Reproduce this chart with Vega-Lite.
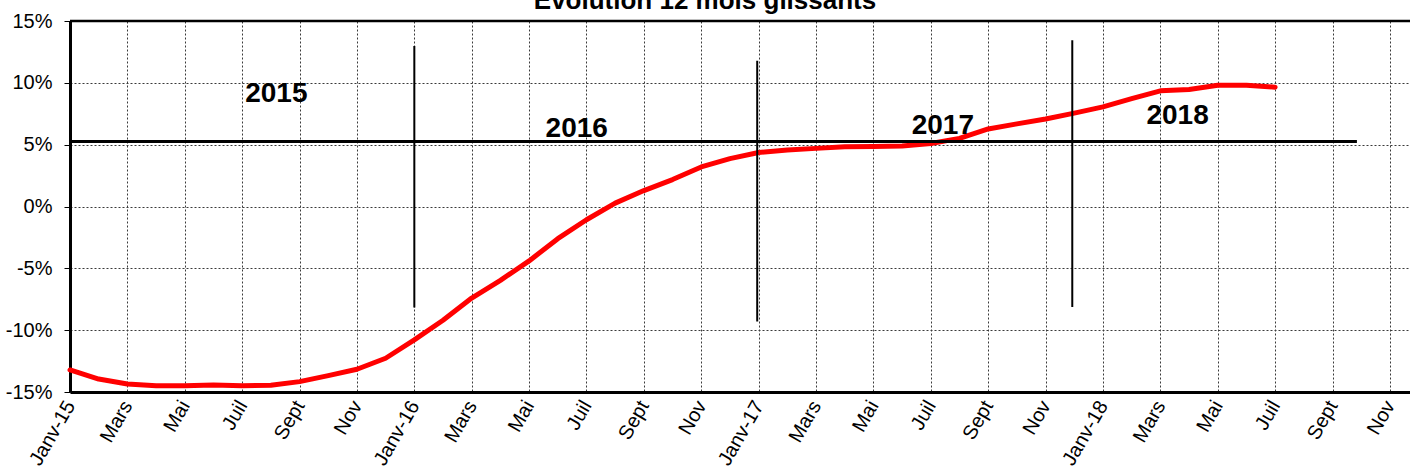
{
  "$schema": "https://vega.github.io/schema/vega-lite/v6.json",
  "width": 1340,
  "height": 371,
  "autosize": {"type": "none"},
  "padding": {"left": 70, "top": 21, "right": 0, "bottom": 82},
  "background": "white",
  "title": {
    "text": "Evolution 12 mois glissants",
    "font": "Liberation Sans",
    "fontSize": 26,
    "fontWeight": "bold",
    "color": "black",
    "anchor": "middle",
    "dx": -35,
    "offset": 0,
    "dy": 3
  },
  "config": {
    "view": {"stroke": null},
    "font": "Liberation Sans"
  },
  "datasets": {
    "serie": [
      {"rang": 0, "periode": "2015-01", "taux": -13.22},
      {"rang": 1, "periode": "2015-02", "taux": -13.95},
      {"rang": 2, "periode": "2015-03", "taux": -14.35},
      {"rang": 3, "periode": "2015-04", "taux": -14.49},
      {"rang": 4, "periode": "2015-05", "taux": -14.49},
      {"rang": 5, "periode": "2015-06", "taux": -14.43},
      {"rang": 6, "periode": "2015-07", "taux": -14.49},
      {"rang": 7, "periode": "2015-08", "taux": -14.46},
      {"rang": 8, "periode": "2015-09", "taux": -14.16},
      {"rang": 9, "periode": "2015-10", "taux": -13.68},
      {"rang": 10, "periode": "2015-11", "taux": -13.16},
      {"rang": 11, "periode": "2015-12", "taux": -12.27},
      {"rang": 12, "periode": "2016-01", "taux": -10.79},
      {"rang": 13, "periode": "2016-02", "taux": -9.2},
      {"rang": 14, "periode": "2016-03", "taux": -7.4},
      {"rang": 15, "periode": "2016-04", "taux": -5.97},
      {"rang": 16, "periode": "2016-05", "taux": -4.4},
      {"rang": 17, "periode": "2016-06", "taux": -2.6},
      {"rang": 18, "periode": "2016-07", "taux": -1.07},
      {"rang": 19, "periode": "2016-08", "taux": 0.27},
      {"rang": 20, "periode": "2016-09", "taux": 1.29},
      {"rang": 21, "periode": "2016-10", "taux": 2.18},
      {"rang": 22, "periode": "2016-11", "taux": 3.2},
      {"rang": 23, "periode": "2016-12", "taux": 3.87},
      {"rang": 24, "periode": "2017-01", "taux": 4.37},
      {"rang": 25, "periode": "2017-02", "taux": 4.57},
      {"rang": 26, "periode": "2017-03", "taux": 4.7},
      {"rang": 27, "periode": "2017-04", "taux": 4.84},
      {"rang": 28, "periode": "2017-05", "taux": 4.86},
      {"rang": 29, "periode": "2017-06", "taux": 4.89},
      {"rang": 30, "periode": "2017-07", "taux": 5.1},
      {"rang": 31, "periode": "2017-08", "taux": 5.51},
      {"rang": 32, "periode": "2017-09", "taux": 6.27},
      {"rang": 33, "periode": "2017-10", "taux": 6.68},
      {"rang": 34, "periode": "2017-11", "taux": 7.08},
      {"rang": 35, "periode": "2017-12", "taux": 7.55},
      {"rang": 36, "periode": "2018-01", "taux": 8.06},
      {"rang": 37, "periode": "2018-02", "taux": 8.73},
      {"rang": 38, "periode": "2018-03", "taux": 9.35},
      {"rang": 39, "periode": "2018-04", "taux": 9.46},
      {"rang": 40, "periode": "2018-05", "taux": 9.81},
      {"rang": 41, "periode": "2018-06", "taux": 9.81},
      {"rang": 42, "periode": "2018-07", "taux": 9.65}
    ],
    "separateurs": [
      {"rang": 12, "bas": -8.16, "haut": 12.98},
      {"rang": 23.95, "bas": -9.29, "haut": 11.79},
      {"rang": 34.93, "bas": -8.13, "haut": 13.44}
    ],
    "moyenne": [
      {"debut": 0, "fin": 44.85, "taux": 5.25}
    ],
    "annees": [
      {"rang": 7.19, "taux": 8.47, "annee": "2015"},
      {"rang": 17.66, "taux": 5.64, "annee": "2016"},
      {"rang": 30.42, "taux": 5.84, "annee": "2017"},
      {"rang": 38.6, "taux": 6.64, "annee": "2018"}
    ]
  },
  "layer": [
    {
      "data": {"name": "serie"},
      "mark": {"type": "line", "color": "#ff0000", "strokeWidth": 5, "strokeCap": "round", "strokeJoin": "round"},
      "encoding": {
        "x": {
          "field": "rang",
          "type": "quantitative",
          "scale": {"domain": [0, 46.7], "nice": false, "zero": false},
          "axis": {
            "title": null,
            "values": [0,1,2,3,4,5,6,7,8,9,10,11,12,13,14,15,16,17,18,19,20,21,22,23,24,25,26,27,28,29,30,31,32,33,34,35,36,37,38,39,40,41,42,43,44,45,46],
            "labelExpr": "datum.value % 2 != 0 ? '' : (datum.value % 12 == 0 ? 'Janv-' + (15 + floor(datum.value / 12)) : ['Janv','Févr','Mars','Avr','Mai','Juin','Juil','Août','Sept','Oct','Nov','Déc'][datum.value % 12])",
            "labelAngle": -60,
            "labelAlign": "right",
            "labelBaseline": "middle",
            "labelFont": "Liberation Sans",
            "labelFontSize": 20,
            "labelColor": "black",
            "labelPadding": 10,
            "labelOverlap": false,
            "labelBound": false,
            "labelFlush": false,
            "ticks": false,
            "domainColor": "black",
            "domainWidth": 3,
            "grid": true,
            "gridColor": "#3a3a3a",
            "gridDash": [2, 2],
            "gridWidth": 1
          }
        },
        "y": {
          "field": "taux",
          "type": "quantitative",
          "scale": {"domain": [-15, 15], "nice": false, "zero": false},
          "axis": {
            "title": null,
            "values": [-15, -10, -5, 0, 5, 10, 15],
            "labelExpr": "datum.value + '%'",
            "labelFont": "Liberation Sans",
            "labelFontSize": 20,
            "labelColor": "black",
            "labelPadding": 12,
            "labelBound": false,
            "labelFlush": false,
            "labelOverlap": false,
            "ticks": true,
            "tickSize": 6,
            "tickColor": "black",
            "tickWidth": 1,
            "domainColor": "black",
            "domainWidth": 3,
            "grid": true,
            "gridColor": "#3a3a3a",
            "gridDash": [2, 2],
            "gridWidth": 1
          }
        }
      }
    },
    {
      "data": {"values": [{}]},
      "mark": {"type": "rule", "color": "black", "strokeWidth": 2.5},
      "encoding": {"y": {"datum": 15, "type": "quantitative"}}
    },
    {
      "data": {"name": "moyenne"},
      "mark": {"type": "rule", "color": "black", "strokeWidth": 3},
      "encoding": {
        "x": {"field": "debut", "type": "quantitative"},
        "x2": {"field": "fin"},
        "y": {"field": "taux", "type": "quantitative"}
      }
    },
    {
      "data": {"name": "separateurs"},
      "mark": {"type": "rule", "color": "black", "strokeWidth": 2},
      "encoding": {
        "x": {"field": "rang", "type": "quantitative"},
        "y": {"field": "bas", "type": "quantitative"},
        "y2": {"field": "haut"}
      }
    },
    {
      "data": {"name": "annees"},
      "mark": {"type": "text", "font": "Liberation Sans", "fontSize": 28, "fontWeight": "bold", "color": "black", "align": "center", "baseline": "alphabetic"},
      "encoding": {
        "x": {"field": "rang", "type": "quantitative"},
        "y": {"field": "taux", "type": "quantitative"},
        "text": {"field": "annee"}
      }
    }
  ]
}
